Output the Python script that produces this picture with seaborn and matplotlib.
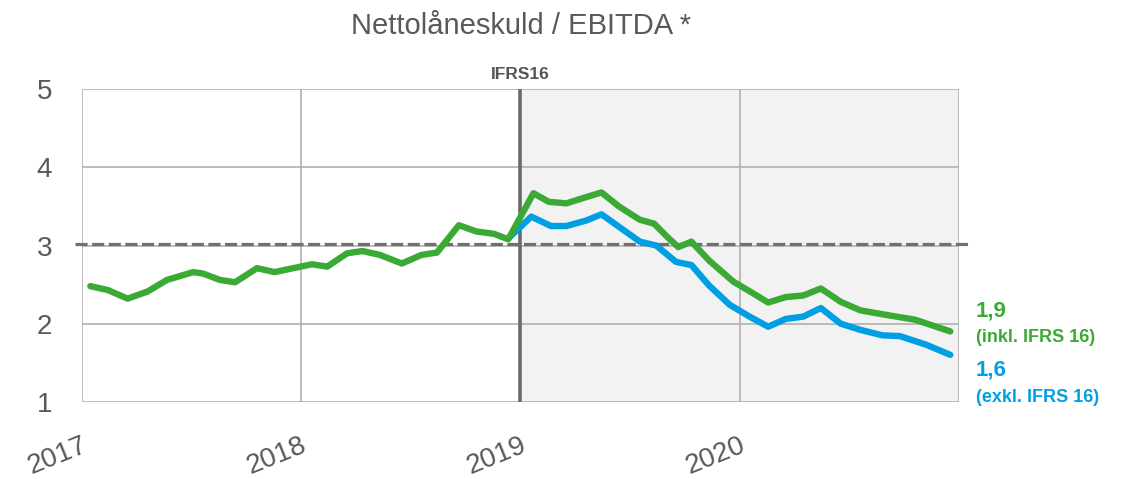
import numpy as np
import pandas as pd
import matplotlib
matplotlib.use("Agg")
import matplotlib.pyplot as plt
import seaborn as sns

# time as decimal years
green_t = [2017.04, 2017.12, 2017.21, 2017.30, 2017.39, 2017.51, 2017.555, 2017.63, 2017.70,
           2017.80, 2017.88, 2017.965, 2018.05, 2018.12, 2018.21, 2018.28, 2018.36, 2018.46,
           2018.55, 2018.62, 2018.72, 2018.80, 2018.88, 2018.945,
           2019.06, 2019.13, 2019.21, 2019.30, 2019.37, 2019.45, 2019.545, 2019.61, 2019.67,
           2019.72, 2019.78, 2019.86, 2019.97, 2020.06, 2020.13, 2020.21, 2020.29, 2020.37,
           2020.46, 2020.55, 2020.65, 2020.80, 2020.96]
green_v = [2.48, 2.43, 2.32, 2.41, 2.56, 2.66, 2.64, 2.56, 2.53,
           2.71, 2.66, 2.71, 2.76, 2.73, 2.90, 2.93, 2.88, 2.77,
           2.88, 2.91, 3.26, 3.18, 3.15, 3.08,
           3.67, 3.56, 3.54, 3.62, 3.68, 3.50, 3.33, 3.28, 3.11,
           2.98, 3.05, 2.81, 2.54, 2.39, 2.27, 2.34, 2.36, 2.45,
           2.28, 2.17, 2.12, 2.05, 1.90]

blue_t = [2018.945, 2019.05, 2019.14, 2019.21, 2019.30, 2019.37, 2019.45, 2019.545, 2019.62,
          2019.71, 2019.78, 2019.86, 2019.955, 2020.045, 2020.13, 2020.21, 2020.29, 2020.37,
          2020.46, 2020.55, 2020.65, 2020.73, 2020.85, 2020.96]
blue_v = [3.09, 3.37, 3.25, 3.25, 3.32, 3.40, 3.24, 3.05, 3.00,
          2.79, 2.75, 2.49, 2.24, 2.09, 1.96, 2.06, 2.09, 2.20,
          2.00, 1.92, 1.85, 1.84, 1.73, 1.60]

years = [2017, 2018, 2019, 2020, 2021]
year_labels = ["2017", "2018", "2019", "2020", ""]
yticks = [1, 2, 3, 4, 5]
target = 3.02
ifrs_start = 2019
last_green = "1,9"
last_blue = "1,6"

GREEN = "#3aaa35"
BLUE = "#009fe3"
GREY = "#595959"

sns.set_style("white")
plt.rcParams["font.family"] = ["Liberation Sans", "DejaVu Sans"]
NARROW = ["Liberation Sans Narrow", "Liberation Sans", "DejaVu Sans"]

fig = plt.figure(figsize=(11.37, 4.79), dpi=100)
ax = fig.add_axes([0.0717, 0.1614, 0.7718, 0.652])

ax.axvspan(ifrs_start, years[-1], color="#f2f2f2", zorder=0)
for y in yticks:
    ax.axhline(y, color="#b0b0b0", lw=1.2, zorder=1)
for x in years:
    ax.axvline(x, color="#b0b0b0", lw=1.2, zorder=1)

ax.axhline(target, xmin=-0.007, xmax=1.012, color="#707070", lw=2.3,
           dashes=(3.8, 1.4), zorder=3, clip_on=False)
ax.axvline(ifrs_start, color="#6a6a6a", lw=2.6, zorder=2)

g = pd.DataFrame({"t": green_t, "v": green_v})
b = pd.DataFrame({"t": blue_t, "v": blue_v})
sns.lineplot(data=b, x="t", y="v", ax=ax, color=BLUE, lw=4.6, sort=False, zorder=4,
             solid_joinstyle="round", solid_capstyle="round")
sns.lineplot(data=g, x="t", y="v", ax=ax, color=GREEN, lw=4.6, sort=False, zorder=5,
             solid_joinstyle="round", solid_capstyle="round")

ax.set_xlim(years[0], years[-1])
ax.set_ylim(1, 5)
ax.set_xticks(years)
ax.set_xticklabels(year_labels, rotation=22, ha="right", va="top",
                   rotation_mode="anchor", fontsize=20, color=GREY)
ax.set_yticks(yticks)
ax.set_yticklabels([str(y) for y in yticks], fontsize=20, color=GREY)
ax.tick_params(axis="both", length=7, width=1.2, color="#b0b0b0")
ax.tick_params(axis="x", pad=15)
ax.tick_params(axis="y", pad=14)
ax.set_xlabel("")
ax.set_ylabel("")
for s in ax.spines.values():
    s.set_visible(False)

ax.text(ifrs_start, 1.025, "IFRS16", transform=ax.get_xaxis_transform(), ha="center",
        va="bottom", fontsize=12.5, fontweight="bold", color="#555555", family=NARROW)

fig.text(0.458, 0.946, "Nettolåneskuld / EBITDA *", ha="center", va="center",
         fontsize=21, color=GREY)

fs_big, fs_small = 16, 13
lab_x = 12
ax.annotate(last_green, xy=(1.0, green_v[-1]), xycoords=("axes fraction", "data"),
            xytext=(lab_x, 15), textcoords="offset points", ha="left", va="center",
            fontsize=fs_big, fontweight="bold", color=GREEN, family=NARROW)
ax.annotate("(inkl. IFRS 16)", xy=(1.0, green_v[-1]), xycoords=("axes fraction", "data"),
            xytext=(lab_x, -4.5), textcoords="offset points", ha="left", va="center",
            fontsize=fs_small, fontweight="bold", color=GREEN, family=NARROW)
ax.annotate(last_blue, xy=(1.0, blue_v[-1]), xycoords=("axes fraction", "data"),
            xytext=(lab_x, -11), textcoords="offset points", ha="left", va="center",
            fontsize=fs_big, fontweight="bold", color=BLUE, family=NARROW)
ax.annotate("(exkl. IFRS 16)", xy=(1.0, blue_v[-1]), xycoords=("axes fraction", "data"),
            xytext=(lab_x, -31), textcoords="offset points", ha="left", va="center",
            fontsize=fs_small, fontweight="bold", color=BLUE, family=NARROW)

fig.savefig("out.png", dpi=100)
